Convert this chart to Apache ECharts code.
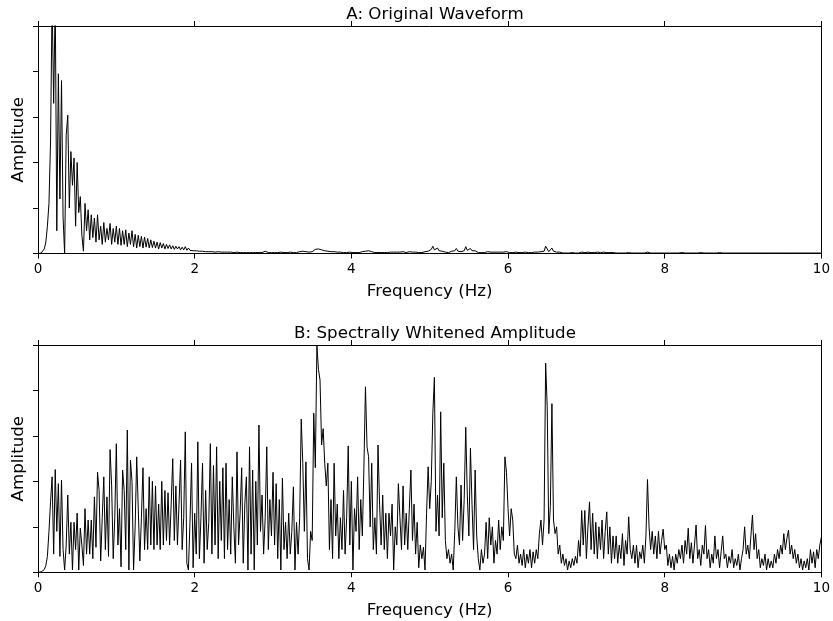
<!DOCTYPE html>
<html>
<head>
<meta charset="utf-8">
<script src="https://cdn.jsdelivr.net/npm/echarts@6/dist/echarts.min.js"></script>
<style>
  html, body { margin: 0; padding: 0; background: #fff; }
  #chart { width: 833px; height: 621px; }
</style>
</head>
<body>
<div id="chart"></div>
<script>
// frequency bins are spaced 0.02 Hz from 0 to 10 Hz
const freqStep = 0.02;
const freqTicks = [0, 2, 4, 6, 8, 10];

// panel A: amplitude spectrum of the raw waveform (one row = 0.2 Hz)
const ampOriginal = [
  0, 0, 0.01, 0.04, 0.1, 0.25, 0.6, 1.1, 2.45, 5.6,
  3.3, 5.6, 0.5, 3.95, 1.2, 3.8, 0.8, 0.0, 2.6, 3.04,
  1.0, 2.24, 1.5, 2.1, 0.6, 2.0, 0.9, 1.25, 0.4, 0.05,
  1.1, 0.5, 0.96, 0.3, 0.85, 0.35, 0.78, 0.25, 0.85, 0.3,
  0.6, 0.2, 0.68, 0.25, 0.55, 0.3, 0.66, 0.2, 0.55, 0.25,
  0.6, 0.2, 0.55, 0.18, 0.5, 0.2, 0.52, 0.15, 0.45, 0.2,
  0.5, 0.15, 0.42, 0.12, 0.4, 0.15, 0.38, 0.12, 0.36, 0.14,
  0.33, 0.12, 0.3, 0.13, 0.27, 0.12, 0.25, 0.1, 0.24, 0.12,
  0.22, 0.1, 0.2, 0.11, 0.19, 0.1, 0.17, 0.09, 0.16, 0.1,
  0.15, 0.08, 0.14, 0.08, 0.15, 0.07, 0.12, 0.07, 0.11, 0.06,
  0.1, 0.06, 0.09, 0.05, 0.08, 0.05, 0.07, 0.04, 0.07, 0.04,
  0.06, 0.04, 0.06, 0.03, 0.05, 0.04, 0.05, 0.03, 0.05, 0.03,
  0.05, 0.03, 0.04, 0.03, 0.04, 0.02, 0.04, 0.03, 0.04, 0.02,
  0.04, 0.02, 0.03, 0.02, 0.04, 0.02, 0.03, 0.02, 0.03, 0.02,
  0.03, 0.02, 0.03, 0.02, 0.03, 0.05, 0.03, 0.02, 0.03, 0.02,
  0.03, 0.02, 0.03, 0.02, 0.02, 0.03, 0.02, 0.02, 0.03, 0.02,
  0.02, 0.03, 0.02, 0.02, 0.03, 0.02, 0.03, 0.04, 0.02, 0.05,
  0.03, 0.04, 0.02, 0.03, 0.02, 0.04, 0.06, 0.09, 0.07, 0.1,
  0.06, 0.08, 0.05, 0.06, 0.04, 0.05, 0.03, 0.04, 0.03, 0.04,
  0.02, 0.03, 0.02, 0.03, 0.02, 0.02, 0.03, 0.02, 0.02, 0.03,
  0.04, 0.02, 0.03, 0.02, 0.03, 0.02, 0.03, 0.04, 0.03, 0.05,
  0.04, 0.06, 0.03, 0.04, 0.03, 0.02, 0.03, 0.02, 0.03, 0.02,
  0.03, 0.02, 0.03, 0.02, 0.02, 0.03, 0.02, 0.03, 0.02, 0.03,
  0.02, 0.03, 0.02, 0.04, 0.03, 0.02, 0.03, 0.04, 0.05, 0.03,
  0.04, 0.03, 0.05, 0.02, 0.03, 0.02, 0.03, 0.04, 0.03, 0.05,
  0.06, 0.09, 0.16, 0.08, 0.05, 0.12, 0.06, 0.1, 0.05, 0.04,
  0.03, 0.04, 0.02, 0.03, 0.05, 0.03, 0.06, 0.11, 0.05, 0.07,
  0.04, 0.08, 0.06, 0.15, 0.07, 0.05, 0.11, 0.06, 0.04, 0.06,
  0.03, 0.02, 0.03, 0.02, 0.03, 0.02, 0.03, 0.04, 0.02, 0.03,
  0.02, 0.03, 0.02, 0.03, 0.02, 0.03, 0.04, 0.03, 0.05, 0.04,
  0.03, 0.02, 0.03, 0.02, 0.02, 0.03, 0.02, 0.02, 0.03, 0.02,
  0.02, 0.03, 0.02, 0.02, 0.03, 0.02, 0.02, 0.03, 0.02, 0.03,
  0.03, 0.04, 0.03, 0.05, 0.16, 0.1, 0.04, 0.06, 0.12, 0.05,
  0.04, 0.03, 0.02, 0.03, 0.02, 0.01, 0.02, 0.01, 0.01, 0.01,
  0.01, 0.02, 0.01, 0.01, 0.02, 0.01, 0.02, 0.03, 0.02, 0.02,
  0.02, 0.03, 0.02, 0.02, 0.03, 0.02, 0.02, 0.03, 0.02, 0.02,
  0.02, 0.03, 0.02, 0.02, 0.03, 0.02, 0.01, 0.02, 0.02, 0.01,
  0.02, 0.01, 0.02, 0.01, 0.02, 0.01, 0.01, 0.02, 0.01, 0.01,
  0.01, 0.01, 0.02, 0.01, 0.01, 0.01, 0.02, 0.01, 0.02, 0.03,
  0.02, 0.01, 0.02, 0.01, 0.01, 0.01, 0.02, 0.01, 0.01, 0.01,
  0.01, 0.01, 0.01, 0.01, 0.01, 0.01, 0.01, 0.01, 0.01, 0.01,
  0.01, 0.02, 0.01, 0.01, 0.01, 0.01, 0.02, 0.01, 0.01, 0.01,
  0.01, 0.01, 0.01, 0.02, 0.01, 0.01, 0.01, 0.01, 0.01, 0.01,
  0.01, 0.01, 0.01, 0.01, 0.01, 0.02, 0.01, 0.01, 0.01, 0.01,
  0.01, 0.01, 0.01, 0.01, 0.01, 0.01, 0.01, 0.01, 0.01, 0.01,
  0.01, 0.01, 0.02, 0.01, 0.01, 0.01, 0.01, 0.01, 0.01, 0.01,
  0.01, 0.01, 0.01, 0.01, 0.01, 0.01, 0.01, 0.01, 0.01, 0.01,
  0.01, 0.01, 0.01, 0.01, 0.01, 0.01, 0.01, 0.01, 0.01, 0.01,
  0.01, 0.01, 0.01, 0.01, 0.01, 0.01, 0.01, 0.01, 0.01, 0.01,
  0.01, 0.01, 0.01, 0.01, 0.01, 0.01, 0.01, 0.01, 0.01, 0.01,
  0.01
];

// panel B: spectrally whitened amplitude (one row = 0.2 Hz)
const ampWhitened = [
  0, 0, 0.01, 0.03, 0.06, 0.15, 0.35, 0.9, 1.55, 2.1,
  0.4, 2.26, 0.9, 1.95, 0.35, 2.03, 0.5, 0.05, 0.6, 1.7,
  0.4, 1.1, 0.05, 1.1, 0.5, 1.3, 0.05, 0.97, 0.6, 0.15,
  1.4, 0.4, 1.15, 0.4, 1.15, 0.3, 1.66, 0.55, 2.2, 1.8,
  0.25, 1.2, 2.1, 0.5, 1.66, 0.35, 2.7, 1.9, 0.3, 1.2,
  2.83, 0.6, 1.4, 0.12, 2.25, 1.8, 0.5, 3.13, 0.05, 2.47,
  2.0, 0.05, 1.0, 2.54, 2.5, 0.25, 1.2, 2.3, 0.5, 1.4,
  0.5, 2.1, 0.6, 2.0, 0.5, 1.9, 0.6, 1.5, 0.5, 2.0,
  0.6, 1.8, 0.7, 1.75, 0.6, 1.5, 2.5, 0.7, 1.9, 0.6,
  1.5, 2.47, 0.5, 1.2, 3.09, 0.2, 0.05, 1.1, 2.4, 0.1,
  1.3, 0.4, 2.87, 0.3, 1.2, 2.4, 0.2, 1.8, 0.5, 1.1,
  2.83, 0.4, 2.35, 0.6, 2.76, 0.3, 2.0, 0.7, 2.3, 0.3,
  2.4, 0.5, 1.6, 0.4, 2.1, 1.0, 0.2, 2.65, 0.6, 1.3,
  2.3, 0.2, 1.5, 2.1, 0.05, 2.76, 0.4, 2.25, 0.05, 2.0,
  0.6, 3.24, 0.9, 1.7, 0.4, 1.2, 2.76, 0.5, 1.6, 0.8,
  2.2, 0.6, 1.95, 0.3, 1.6, 0.05, 2.07, 0.5, 1.1, 0.3,
  1.3, 0.4, 0.9, 1.88, 0.05, 1.1, 0.4, 1.2, 3.37, 2.4,
  0.9, 2.43, 0.3, 0.05, 0.9, 0.7, 3.5, 2.3, 5.0, 4.46,
  4.23, 2.8, 3.16, 2.4, 1.9, 2.4, 0.5, 1.6, 0.3, 2.4,
  0.8, 1.5, 0.3, 1.2, 0.5, 1.8, 0.4, 1.2, 2.78, 0.6,
  2.0, 0.05, 1.4, 0.9, 2.1, 0.5, 1.6, 0.8, 2.3, 4.08,
  2.76, 2.54, 1.0, 2.4, 0.5, 1.2, 0.4, 2.8, 1.5, 0.6,
  1.7, 0.5, 1.3, 0.3, 1.3, 0.8, 1.5, 0.05, 1.0, 0.6,
  1.95, 1.2, 0.5, 1.9, 0.6, 1.3, 0.5, 1.4, 2.25, 0.7,
  1.5, 0.4, 1.1, 0.1, 0.6, 0.3, 0.55, 0.05, 1.3, 2.32,
  1.4, 2.0, 3.5, 4.29, 0.9, 1.7, 0.8, 3.53, 1.2, 2.4,
  0.7, 0.3, 0.5, 0.2, 0.4, 0.05, 0.9, 2.1, 1.0, 0.6,
  1.92, 0.7, 1.6, 3.19, 1.7, 0.8, 2.73, 1.5, 0.5, 2.25,
  0.8, 0.3, 0.05, 0.5, 0.2, 0.4, 1.1, 0.3, 1.2, 0.6,
  1.0, 0.2, 0.7, 0.4, 1.15, 0.5, 1.0, 0.7, 2.54, 2.2,
  1.4, 0.8, 1.4, 1.15, 0.4, 0.3, 0.6, 0.2, 0.4, 0.15,
  0.5, 0.1, 0.4, 0.2, 0.5, 0.1, 0.45, 0.2, 0.5, 0.3,
  0.85, 1.15, 0.6, 1.15, 4.6, 3.64, 0.85, 1.45, 3.71, 1.15,
  0.85, 1.0, 0.4, 0.6, 0.2, 0.4, 0.15, 0.3, 0.05, 0.25,
  0.1, 0.3, 0.15, 0.35, 0.2, 0.7, 0.35, 1.36, 0.6, 1.36,
  0.3, 1.0, 1.55, 0.5, 1.3, 0.4, 1.1, 0.3, 1.0, 0.5,
  1.15, 0.3, 0.9, 1.33, 0.4, 1.0, 0.2, 0.8, 0.3, 0.8,
  0.2, 0.6, 0.3, 0.85, 0.15, 0.7, 0.4, 1.22, 0.5, 0.3,
  0.6, 0.2, 0.6, 0.1, 0.45, 0.3, 0.6, 0.2, 0.8, 2.04,
  1.0, 0.5, 0.9, 0.4, 0.8, 0.3, 0.9, 0.4, 0.7, 0.95,
  0.5, 0.6, 0.15, 0.4, 0.1, 0.35, 0.05, 0.4, 0.2, 0.5,
  0.3, 0.6, 0.2, 0.7, 0.4, 0.97, 0.3, 0.65, 0.2, 0.6,
  1.04, 0.3, 0.5, 0.15, 0.6, 0.4, 1.03, 0.3, 0.5, 0.1,
  0.4, 0.2, 0.8, 0.3, 0.5, 0.1, 0.45, 0.8, 0.3, 0.4,
  0.1, 0.35, 0.2, 0.5, 0.1, 0.3, 0.15, 0.4, 0.05, 0.3,
  0.5, 1.0, 0.4, 0.6, 0.3, 0.8, 1.26, 0.5, 0.85, 0.3,
  0.5, 0.1, 0.3, 0.15, 0.4, 0.05, 0.3, 0.1, 0.25, 0.1,
  0.4, 0.2, 0.5, 0.3, 0.6, 0.4, 0.85, 0.5, 0.75, 0.93,
  0.4, 0.6, 0.3, 0.5, 0.2, 0.4, 0.1, 0.3, 0.05, 0.25,
  0.1, 0.3, 0.05, 0.5, 0.2, 0.45, 0.1, 0.5, 0.3, 0.6,
  0.78
];

const FONT = 'DejaVu Sans';
const INK = '#000';

function toPairs(values) {
  return values.map((v, i) => [+(i * freqStep).toFixed(2), v]);
}

function panelAxes(gridIndex) {
  const xBottom = {
    type: 'value', gridIndex, position: 'bottom',
    min: freqTicks[0], max: freqTicks[freqTicks.length - 1], interval: 2,
    name: 'Frequency (Hz)', nameLocation: 'middle', nameGap: 30,
    nameTextStyle: { fontFamily: FONT, fontSize: 16.7, color: INK },
    axisLine: { show: true, onZero: false, lineStyle: { color: INK, width: 1 } },
    axisTick: { show: true, inside: false, length: 5, lineStyle: { color: INK } },
    axisLabel: { show: true, margin: 9, fontFamily: FONT, fontSize: 13.5, color: INK },
    splitLine: { show: false }
  };
  const xTop = {
    type: 'value', gridIndex, position: 'top',
    min: 0, max: 10, interval: 2,
    axisLine: { show: true, onZero: false, lineStyle: { color: INK, width: 1 } },
    axisTick: { show: true, inside: false, length: 5, lineStyle: { color: INK } },
    axisLabel: { show: false },
    splitLine: { show: false }
  };
  const yLeft = {
    type: 'value', gridIndex, position: 'left',
    min: 0, max: 5, interval: 1,
    name: 'Amplitude', nameLocation: 'middle', nameGap: 11, nameRotate: 90,
    nameTextStyle: { fontFamily: FONT, fontSize: 16.7, color: INK },
    axisLine: { show: true, onZero: false, lineStyle: { color: INK, width: 1 } },
    axisTick: { show: true, inside: false, length: 5, lineStyle: { color: INK } },
    axisLabel: { show: false },
    splitLine: { show: false }
  };
  const yRight = {
    type: 'value', gridIndex, position: 'right',
    min: 0, max: 5,
    axisLine: { show: true, onZero: false, lineStyle: { color: INK, width: 1 } },
    axisTick: { show: false },
    axisLabel: { show: false },
    splitLine: { show: false }
  };
  return { x: [xBottom, xTop], y: [yLeft, yRight] };
}

const axesA = panelAxes(0);
const axesB = panelAxes(1);

const chart = echarts.init(document.getElementById('chart'), null, { renderer: 'canvas' });

chart.setOption({
  animation: false,
  backgroundColor: '#fff',
  textStyle: { fontFamily: FONT },
  title: [
    {
      text: 'A: Original Waveform', left: 430, top: 1, textAlign: 'center',
      textStyle: { fontFamily: FONT, fontSize: 16.7, fontWeight: 'normal', color: INK }
    },
    {
      text: 'B: Spectrally Whitened Amplitude', left: 430, top: 320, textAlign: 'center',
      textStyle: { fontFamily: FONT, fontSize: 16.7, fontWeight: 'normal', color: INK }
    }
  ],
  grid: [
    { left: 38, top: 26, width: 784, height: 227.5 },
    { left: 38, top: 345, width: 784, height: 227.3 }
  ],
  xAxis: [...axesA.x, ...axesB.x],
  yAxis: [...axesA.y, ...axesB.y],
  series: [
    {
      type: 'line', xAxisIndex: 0, yAxisIndex: 0,
      data: toPairs(ampOriginal),
      showSymbol: false, clip: true, sampling: null,
      lineStyle: { color: INK, width: 1 }
    },
    {
      type: 'line', xAxisIndex: 2, yAxisIndex: 2,
      data: toPairs(ampWhitened),
      showSymbol: false, clip: true, sampling: null,
      lineStyle: { color: INK, width: 1 }
    }
  ]
});

window.addEventListener('resize', () => chart.resize());
</script>
</body>
</html>
